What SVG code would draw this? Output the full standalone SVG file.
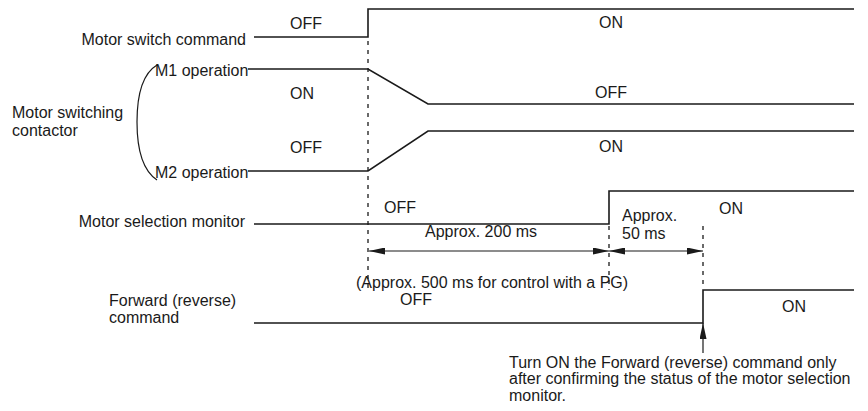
<svg xmlns="http://www.w3.org/2000/svg" width="868" height="411" viewBox="0 0 868 411">
<style>
text{font-family:"Liberation Sans",Arial,sans-serif;font-size:16px;fill:#1a1a1a}
.sig{fill:none;stroke:#1a1a1a;stroke-width:1.6}
.dash{fill:none;stroke:#1a1a1a;stroke-width:1.3;stroke-dasharray:4 5}
.dim{fill:none;stroke:#1a1a1a;stroke-width:1.2}
</style>
<defs>
<marker id="ah" viewBox="0 0 16 7" refX="16" refY="3.5" markerWidth="16" markerHeight="7" markerUnits="userSpaceOnUse" orient="auto-start-reverse">
<path d="M0,0 L16,3.5 L0,7 Z" fill="#1a1a1a"/>
</marker>
</defs>
<rect width="868" height="411" fill="#fff"/>

<g id="motor-switch-command">
<text x="246" y="45" text-anchor="end">Motor switch command</text>
<path class="sig" d="M254,37 H368 V9 H854"/>
<text x="290" y="29">OFF</text>
<text x="599" y="28">ON</text>
</g>

<g id="motor-switching-contactor">
<text x="12" y="118">Motor switching</text>
<text x="12" y="136">contactor</text>
<path class="dim" d="M157,65 C142,74 137,96 137,122 C137,149 142,170 157,180"/>
</g>

<g id="m1-operation">
<text x="155" y="76">M1 operation</text>
<path class="sig" d="M248,69 H368 L428,104 H854"/>
<text x="290" y="99">ON</text>
<text x="595" y="98">OFF</text>
</g>

<g id="m2-operation">
<text x="155" y="178">M2 operation</text>
<path class="sig" d="M248,171 H368 L428,131 H854"/>
<text x="290" y="153">OFF</text>
<text x="599" y="152">ON</text>
</g>

<g id="motor-selection-monitor">
<text x="245" y="227" text-anchor="end">Motor selection monitor</text>
<path class="sig" d="M254,224 H609 V191 H854"/>
<text x="384" y="213">OFF</text>
<text x="719" y="214">ON</text>
</g>

<g id="forward-command">
<text x="109" y="306">Forward (reverse)</text>
<text x="109" y="323">command</text>
<path class="sig" d="M254,323 H703 V290 H854"/>
<text x="400" y="305">OFF</text>
<text x="782" y="312">ON</text>
</g>

<g id="timing-labels">
<text x="425" y="237">Approx. 200 ms</text>
<text x="622" y="221">Approx.</text>
<text x="622" y="239">50 ms</text>
<text x="356" y="288">(Approx. 500 ms for control with a PG)</text>
</g>

<g id="note">
<text x="509" y="368">Turn ON the Forward (reverse) command only</text>
<text x="509" y="384">after confirming the status of the motor selection</text>
<text x="509" y="401">monitor.</text>
</g>

<g id="connectors">
<path class="dash" d="M368,41 V290"/>
<path class="dash" d="M609,226 V290"/>
<path class="dash" d="M703,226 V289"/>
<path class="dim" d="M369,251 H609" marker-start="url(#ah)" marker-end="url(#ah)"/>
<path class="dim" d="M609,251 H703" marker-start="url(#ah)" marker-end="url(#ah)"/>
<path class="dim" d="M703,353 V323" marker-end="url(#ah)"/>
</g>
</svg>
